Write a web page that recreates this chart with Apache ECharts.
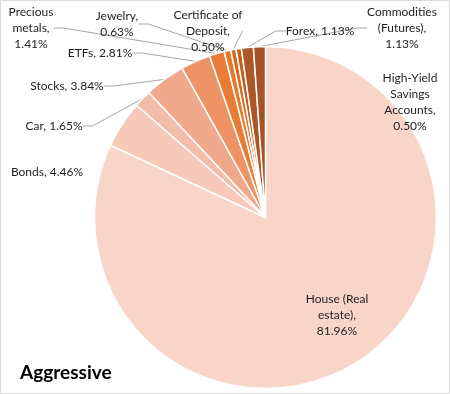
<!DOCTYPE html>
<html>
<head>
<meta charset="utf-8">
<script src="https://cdn.jsdelivr.net/npm/echarts@6/dist/echarts.min.js"></script>
<style>
  html, body { margin: 0; padding: 0; background: #fff; }
  #chart { width: 450px; height: 394px; }
</style>
</head>
<body>
<div id="chart"></div>
<script>
// ---- data ----
const categories = [
  "House (Real estate)", "Bonds", "Car", "Stocks", "ETFs", "Precious metals",
  "Jewelry", "Certificate of Deposit", "High-Yield Savings Accounts",
  "Forex", "Commodities (Futures)"
];
const values = [81.96, 4.46, 1.65, 3.84, 2.81, 1.41, 0.63, 0.50, 0.50, 1.13, 1.13];
// wrapped label text (percentage is appended)
const labelPrefix = [
  "House (Real\nestate),\n", "Bonds, ", "Car, ", "Stocks, ", "ETFs, ",
  "Precious\nmetals,\n", "Jewelry,\n", "Certificate of\nDeposit,\n",
  "High-Yield\nSavings\nAccounts,\n", "Forex, ", "Commodities\n(Futures),\n"
];
const title = "Aggressive";

// ---- styles / layout ----
const colors = ["#f9d5c9", "#f6c9b9", "#f3bda9", "#f0a98b", "#ed9366", "#e97d37",
                "#e8782a", "#da6a21", "#c65e1f", "#ac5726", "#a65226"];
// label centers (layout only)
const labelPos = [
  [337, 315], [47, 172], [54, 126], [67, 86], [100, 53], [31, 28],
  [117, 24], [208, 31], [410, 102], [320, 31], [402, 28]
];
const noLine = { 0: true, 1: true, 8: true };

const chart = echarts.init(document.getElementById("chart"), null, { renderer: "canvas" });
chart.setOption({
  backgroundColor: "#ffffff",
  animation: false,
  graphic: [
    { type: "rect", shape: { x: 0.5, y: 0.5, width: 449, height: 393 },
      style: { fill: "none", stroke: "#d9d9d9", lineWidth: 1 }, z: 100 },
    { type: "text", left: 20, top: 363,
      style: { text: title, font: "bold 19px Lato", fill: "#000000" } }
  ],
  series: [{
    type: "pie",
    center: [265.5, 217.5],
    radius: [0, 171],
    startAngle: 90,
    clockwise: true,
    avoidLabelOverlap: false,
    itemStyle: { borderColor: "#ffffff", borderWidth: 1.5 },
    data: categories.map((c, i) => ({
      name: c,
      value: values[i],
      itemStyle: { color: colors[i] },
      labelLine: { show: !noLine[i] }
    })),
    label: {
      show: true,
      position: "outside",
      formatter: (p) => labelPrefix[p.dataIndex] + values[p.dataIndex].toFixed(2) + "%",
      fontFamily: "Lato",
      fontSize: 12,
      lineHeight: 16,
      color: "#1e1e1e",
      align: "center"
    },
    labelLine: {
      show: true,
      length: 10,
      length2: 10,
      lineStyle: { color: "#a6a6a6", width: 1 }
    },
    labelLayout: (p) => {
      const pos = labelPos[p.dataIndex];
      return { x: pos[0], y: pos[1], align: "center", verticalAlign: "middle" };
    },
    emphasis: { disabled: true }
  }]
});
</script>
</body>
</html>
